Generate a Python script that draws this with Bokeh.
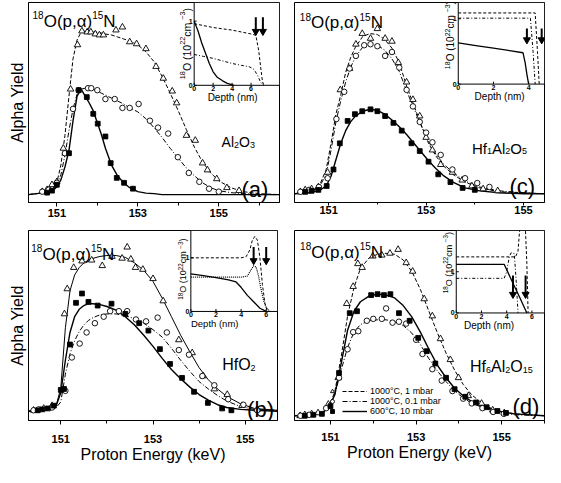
import numpy as np
from bokeh.plotting import figure
from bokeh.layouts import row, column
from bokeh.models import Range1d, FixedTicker, Legend, LegendItem
from bokeh.core.properties import value
from bokeh.embed import file_html
from bokeh.resources import INLINE

FONT = "Liberation Sans"

# ---------------- shared tick labels ----------------
x_major_ticks = [151, 153, 155]
x_minor_ticks = [150, 152, 154, 156]
x_label = "Proton Energy (keV)"
y_label = "Alpha Yield"
legend_labels = ["1000°C, 1 mbar", "1000°C, 0.1 mbar", "600°C, 10 mbar"]

# ---------------- panel (a) Al2O3 ----------------
a_fit_E = [150.3, 150.7, 150.9, 151.0, 151.1, 151.2, 151.3, 151.4, 151.5, 151.6, 151.7, 151.8, 151.9, 152.0,
           152.1, 152.2, 152.35, 152.5, 152.65, 152.8, 153.0, 153.2, 153.4, 153.6, 153.8, 154.0, 154.2, 154.4,
           154.6, 154.8, 155.0, 155.3, 155.6, 156.0, 156.5]
a_fit_1mbar = [0, 0.02, 0.06, 0.12, 0.30, 0.60, 1.0, 1.38, 1.57, 1.65, 1.66, 1.66, 1.65, 1.65, 1.64, 1.63, 1.62,
               1.60, 1.58, 1.56, 1.52, 1.45, 1.35, 1.20, 1.03, 0.85, 0.66, 0.48, 0.33, 0.22, 0.14, 0.07, 0.03,
               0.01, 0]
a_fit_01mbar = [0, 0.02, 0.05, 0.10, 0.20, 0.40, 0.65, 0.87, 1.02, 1.07, 1.08, 1.08, 1.07, 1.05, 1.03, 1.01, 0.98,
                0.95, 0.92, 0.88, 0.84, 0.77, 0.68, 0.58, 0.47, 0.37, 0.27, 0.19, 0.12, 0.07, 0.04, 0.02, 0.01,
                0, 0]
a_fit_600 = [0, 0.02, 0.04, 0.08, 0.15, 0.28, 0.45, 0.75, 1.0, 1.07, 1.0, 0.93, 0.85, 0.73, 0.61, 0.47, 0.30,
             0.19, 0.12, 0.07, 0.03, 0.015, 0.01, 0, 0, 0, 0, 0, 0, 0, 0, 0, 0, 0, 0]
a_tri_E = [150.64, 150.76, 150.88, 151.0, 151.16, 151.34, 151.51, 151.62, 151.75, 151.84, 151.95, 152.05, 152.15,
           152.46, 152.62, 152.80, 152.97, 153.2, 153.45, 153.63, 153.85, 153.96, 154.2, 154.42, 154.6, 154.72,
           154.95, 155.2, 155.5]
a_tri_Y = [0.03, 0.05, 0.10, 0.13, 0.47, 1.07, 1.52, 1.66, 1.65, 1.65, 1.63, 1.62, 1.62, 1.67, 1.70, 1.55, 1.53,
           1.48, 1.30, 1.18, 1.05, 0.93, 0.60, 0.55, 0.32, 0.25, 0.16, 0.07, 0.04]
a_cir_E = [150.64, 150.8, 151.0, 151.2, 151.4, 151.54, 151.77, 151.85, 152.0, 152.2, 152.43, 152.62, 152.80,
           153.02, 153.3, 153.5, 153.75, 153.99, 154.26, 154.52, 154.76, 155.0]
a_cir_Y = [0.03, 0.05, 0.12, 0.42, 0.87, 1.06, 1.08, 1.08, 1.06, 0.97, 0.97, 0.88, 0.88, 0.92, 0.75, 0.68, 0.62,
           0.38, 0.22, 0.13, 0.06, 0.03]
a_sq_E = [150.76, 150.88, 151.0, 151.3, 151.54, 151.74, 151.9, 152.01, 152.2, 152.33, 152.48, 152.66, 152.88]
a_sq_Y = [0.02, 0.04, 0.10, 0.42, 1.06, 0.99, 0.82, 0.72, 0.59, 0.32, 0.17, 0.12, 0.06]
# inset (a): depth (nm) vs 18O concentration (1e22 cm^-3)
a_in_d_1mbar = [0, 1, 2, 3, 4, 5, 6, 6.5, 6.8, 7.0, 7.2, 7.35]
a_in_c_1mbar = [0.96, 0.93, 0.90, 0.88, 0.86, 0.83, 0.80, 0.78, 0.55, 0.30, 0.06, 0]
a_in_d_01mbar = [0, 1, 2, 3, 4, 5, 5.8, 6.3, 6.7, 7.0, 7.3]
a_in_c_01mbar = [0.48, 0.45, 0.42, 0.38, 0.34, 0.31, 0.29, 0.25, 0.15, 0.05, 0]
a_in_d_600 = [0, 0.4, 0.8, 1.2, 1.6, 2.0, 2.4, 3.0, 3.5, 4.2]
a_in_c_600 = [1.0, 0.85, 0.66, 0.50, 0.34, 0.21, 0.13, 0.07, 0.03, 0]
a_in_xticks = [0, 2, 4, 6]
a_in_arrows = [6.5, 7.25]

# ---------------- panel (b) HfO2 ----------------
b_fit_E = [150.3, 150.7, 150.9, 151.0, 151.1, 151.2, 151.3, 151.4, 151.5, 151.6, 151.7, 151.85, 152.0, 152.2,
           152.4, 152.6, 152.8, 153.0, 153.2, 153.4, 153.6, 153.8, 154.0, 154.2, 154.4, 154.6, 154.9, 155.2, 155.7]
b_fit_1mbar = [0, 0.02, 0.06, 0.25, 0.90, 1.30, 1.47, 1.55, 1.60, 1.63, 1.65, 1.67, 1.68, 1.68, 1.66, 1.60, 1.52,
               1.40, 1.22, 1.02, 0.82, 0.64, 0.47, 0.34, 0.24, 0.16, 0.08, 0.03, 0.01]
b_fit_01mbar = [0, 0.02, 0.04, 0.10, 0.40, 0.62, 0.76, 0.86, 0.93, 0.98, 1.01, 1.04, 1.05, 1.05, 1.03, 1.00, 0.95,
                0.88, 0.80, 0.68, 0.55, 0.43, 0.32, 0.24, 0.17, 0.11, 0.05, 0.02, 0.01]
b_fit_600 = [0, 0.02, 0.06, 0.20, 0.55, 0.85, 1.02, 1.10, 1.14, 1.16, 1.16, 1.15, 1.13, 1.09, 1.02, 0.93, 0.82,
             0.70, 0.57, 0.45, 0.35, 0.26, 0.18, 0.12, 0.07, 0.04, 0.02, 0.01, 0]
b_tri_E = [150.41, 150.63, 150.81, 151.08, 151.14, 151.28, 151.46, 151.67, 151.9, 152.11, 152.33, 152.44, 152.52,
           152.62, 152.78, 153.0, 153.22, 153.56, 153.85, 154.09, 154.33, 154.61, 154.93, 155.26]
b_tri_Y = [0.01, 0.03, 0.06, 1.05, 1.32, 1.55, 1.62, 1.63, 1.57, 1.67, 1.65, 1.77, 1.64, 1.55, 1.53, 1.43, 1.19,
           0.77, 0.63, 0.38, 0.24, 0.18, 0.06, 0.02]
b_cir_E = [150.41, 150.52, 150.81, 151.1, 151.24, 151.41, 151.56, 151.74, 151.93, 152.07, 152.26, 152.44, 152.63,
           152.85, 153.1, 153.3, 153.56, 153.78, 154.07, 154.33, 154.63, 154.96, 155.26]
b_cir_Y = [0.01, 0.02, 0.04, 0.22, 0.58, 0.73, 0.85, 0.95, 1.02, 1.08, 1.08, 1.08, 0.99, 0.97, 1.01, 0.85, 0.66,
           0.61, 0.38, 0.28, 0.13, 0.07, 0.01]
b_sq_E = [150.5, 150.6, 150.72, 150.85, 151.0, 151.07, 151.2, 151.33, 151.46, 151.6, 151.8, 152.1, 152.4, 152.7,
          152.9, 153.15, 153.37, 153.63, 153.89, 154.19, 154.5, 154.7]
b_sq_Y = [0.01, 0.02, 0.03, 0.06, 0.23, 0.24, 0.72, 1.17, 1.27, 1.18, 1.14, 1.16, 1.05, 0.95, 0.87, 0.67, 0.51,
          0.36, 0.21, 0.09, 0.03, 0.01]
b_in_d_1mbar = [0, 1, 2, 3, 4, 4.4, 4.7, 4.9, 5.1, 5.3, 5.5, 5.7, 5.9, 6.1]
b_in_c_1mbar = [1, 1, 1, 1, 1, 1.02, 1.15, 1.33, 1.40, 1.33, 1.0, 0.5, 0.15, 0]
b_in_d_01mbar = [0, 1, 2, 3, 4, 4.5, 4.8, 5.0, 5.2, 5.4, 5.6, 5.8, 6.0, 6.3]
b_in_c_01mbar = [0.64, 0.64, 0.64, 0.64, 0.64, 0.66, 0.78, 0.85, 0.83, 0.65, 0.40, 0.2, 0.07, 0]
b_in_d_600 = [0, 1, 2, 3, 3.6, 4.0, 4.5, 5.0, 5.5, 6.0]
b_in_c_600 = [0.70, 0.67, 0.63, 0.59, 0.55, 0.45, 0.30, 0.18, 0.06, 0]
b_in_xticks = [0, 2, 4, 6]
b_in_arrows = [5.0, 6.0]

# ---------------- panel (c) Hf1Al2O5 ----------------
c_fit_E = [150.3, 150.6, 150.8, 150.95, 151.05, 151.15, 151.25, 151.35, 151.45, 151.55, 151.7, 151.85, 152.0,
           152.15, 152.3, 152.45, 152.6, 152.75, 152.9, 153.05, 153.2, 153.35, 153.55, 153.8, 154.1, 154.5,
           155.0, 155.45]
c_fit_1mbar = [0, 0.02, 0.07, 0.25, 0.52, 0.82, 1.02, 1.25, 1.40, 1.51, 1.62, 1.65, 1.64, 1.59, 1.50, 1.35, 1.11,
               0.91, 0.71, 0.52, 0.39, 0.29, 0.20, 0.12, 0.06, 0.02, 0.01, 0]
c_fit_01mbar = [0, 0.02, 0.06, 0.20, 0.45, 0.74, 0.96, 1.15, 1.30, 1.41, 1.51, 1.54, 1.53, 1.48, 1.39, 1.26, 1.06,
                0.88, 0.70, 0.54, 0.41, 0.31, 0.22, 0.13, 0.07, 0.03, 0.01, 0]
c_fit_600 = [0, 0.01, 0.03, 0.08, 0.18, 0.35, 0.52, 0.65, 0.74, 0.80, 0.85, 0.87, 0.86, 0.82, 0.76, 0.69, 0.61,
             0.52, 0.43, 0.34, 0.26, 0.19, 0.12, 0.06, 0.03, 0.01, 0, 0]
c_tri_E = [150.42, 150.52, 150.65, 150.79, 150.98, 151.24, 151.43, 151.56, 151.69, 151.86, 152.0, 152.16, 152.3,
           152.43, 152.6, 152.73, 152.87, 153.0, 153.13, 153.3, 153.54, 153.74, 153.94, 154.17, 154.47]
c_tri_Y = [0.02, 0.04, 0.05, 0.07, 0.22, 1.07, 1.29, 1.54, 1.65, 1.60, 1.70, 1.60, 1.57, 1.35, 1.15, 0.97, 0.80,
           0.58, 0.45, 0.30, 0.22, 0.14, 0.08, 0.05, 0.03]
c_cir_E = [150.42, 150.6, 150.8, 150.98, 151.16, 151.32, 151.43, 151.56, 151.73, 151.86, 152.0, 152.16, 152.3,
           152.45, 152.6, 152.73, 152.87, 153.0, 153.13, 153.3, 153.54, 153.8, 154.05, 154.3]
c_cir_Y = [0.02, 0.04, 0.07, 0.16, 0.77, 1.05, 1.29, 1.42, 1.53, 1.54, 1.52, 1.42, 1.46, 1.30, 1.07, 0.90, 0.74,
           0.63, 0.53, 0.40, 0.25, 0.16, 0.11, 0.07]
c_sq_E = [150.52, 150.65, 150.79, 150.96, 151.1, 151.23, 151.39, 151.54, 151.69, 151.86, 152.0, 152.16, 152.33,
          152.5, 152.7, 152.87, 153.05, 153.25, 153.5, 153.75, 154.0]
c_sq_Y = [0.02, 0.03, 0.04, 0.08, 0.25, 0.52, 0.75, 0.82, 0.85, 0.87, 0.85, 0.80, 0.73, 0.65, 0.52, 0.44, 0.33,
          0.20, 0.12, 0.06, 0.04]
c_in_d_1mbar = [0, 1, 2, 3, 4, 4.37, 4.5, 4.6]
c_in_c_1mbar = [1.09, 1.09, 1.09, 1.09, 1.09, 1.09, 0.5, 0]
c_in_d_01mbar = [0, 1, 2, 3, 4, 4.1, 4.25, 4.37]
c_in_c_01mbar = [1.01, 1.01, 1.01, 1.01, 1.01, 1.01, 0.5, 0]
c_in_d_600 = [0, 1, 2, 3, 3.68, 3.8, 3.9, 4.0]
c_in_c_600 = [0.63, 0.59, 0.55, 0.51, 0.48, 0.33, 0.15, 0]
c_in_xticks = [0, 2, 4]
c_in_arrows = [3.9, 4.74]

# ---------------- panel (d) Hf6Al2O15 ----------------
d_fit_E = [150.15, 150.6, 150.8, 150.95, 151.1, 151.25, 151.4, 151.55, 151.7, 151.9, 152.1, 152.3, 152.5, 152.7,
           152.9, 153.1, 153.3, 153.5, 153.7, 153.9, 154.1, 154.3, 154.6, 154.9, 155.3, 156.0]
d_fit_1mbar = [0, 0.01, 0.03, 0.08, 0.25, 0.62, 1.05, 1.35, 1.55, 1.66, 1.70, 1.71, 1.70, 1.64, 1.52, 1.33, 1.10,
               0.87, 0.66, 0.48, 0.33, 0.22, 0.11, 0.05, 0.02, 0]
d_fit_01mbar = [0, 0.01, 0.03, 0.08, 0.22, 0.48, 0.72, 0.88, 0.96, 1.0, 1.01, 1.01, 0.99, 0.95, 0.87, 0.75, 0.60,
                0.47, 0.36, 0.26, 0.19, 0.13, 0.08, 0.04, 0.01, 0]
d_fit_600 = [0, 0.01, 0.03, 0.08, 0.22, 0.55, 0.90, 1.10, 1.20, 1.26, 1.28, 1.27, 1.24, 1.16, 1.04, 0.88, 0.70,
             0.53, 0.40, 0.29, 0.21, 0.15, 0.09, 0.05, 0.02, 0]
d_tri_E = [150.29, 150.4, 150.56, 150.71, 150.95, 151.18, 151.38, 151.53, 151.64, 151.74, 151.99, 152.2, 152.39,
           152.58, 152.77, 152.92, 153.19, 153.38, 153.57, 153.8, 153.99, 154.22, 154.53, 154.79, 155.06]
d_tri_Y = [0.0, 0.01, 0.02, 0.03, 0.12, 0.40, 1.18, 1.36, 1.60, 1.56, 1.68, 1.69, 1.71, 1.75, 1.61, 1.52, 1.23,
           1.05, 0.81, 0.59, 0.40, 0.21, 0.13, 0.06, 0.03]
d_cir_E = [150.3, 150.5, 150.9, 151.2, 151.4, 151.53, 151.65, 151.85, 152.0, 152.2, 152.3, 152.45, 152.6, 152.77,
           153.0, 153.15, 153.38, 153.6, 153.85, 154.1, 154.3, 154.55, 154.8, 155.05]
d_cir_Y = [0.0, 0.01, 0.08, 0.40, 0.70, 0.88, 0.89, 1.0, 1.02, 1.02, 1.13, 0.98, 0.99, 0.97, 0.80, 0.65, 0.49,
           0.37, 0.26, 0.18, 0.13, 0.08, 0.04, 0.02]
d_sq_E = [150.4, 150.6, 150.8, 151.0, 151.2, 151.45, 151.62, 151.95, 152.1, 152.25, 152.4, 152.6, 152.85, 153.05,
          153.25, 153.45, 153.7, 153.9, 154.15, 154.4, 154.65, 154.9, 155.1]
d_sq_Y = [0.0, 0.01, 0.02, 0.10, 0.45, 1.08, 1.10, 1.27, 1.28, 1.27, 1.28, 1.08, 1.0, 0.82, 0.68, 0.55, 0.40,
          0.28, 0.20, 0.14, 0.09, 0.05, 0.03]
d_in_d_1mbar = [0, 1, 2, 3, 4, 4.7, 4.9, 5.05, 5.2, 5.45, 5.6, 5.7]
d_in_c_1mbar = [1.36, 1.36, 1.36, 1.36, 1.36, 1.36, 1.5, 2.1, 2.3, 2.3, 1.2, 0]
d_in_d_01mbar = [0, 1, 2, 3, 3.8, 4.0, 4.2, 4.35, 4.6, 4.75, 4.9]
d_in_c_01mbar = [0.84, 0.84, 0.84, 0.84, 0.84, 1.0, 1.35, 1.46, 1.44, 0.8, 0]
d_in_d_600 = [0, 1, 2, 3, 3.8, 4.5, 5.0, 5.6]
d_in_c_600 = [1.18, 1.18, 1.18, 1.18, 1.18, 0.72, 0.40, 0]
d_in_xticks = [0, 2, 4, 6]
d_in_arrows = [4.5, 5.5]

in_yticks = [0, 1]

# ---------------- helpers ----------------
ARIAL = {c: 556 for c in "0123456789"}
ARIAL.update({" ": 278, "(": 333, ")": 333, ",": 278, ".": 278, "A": 667, "C": 722, "D": 722, "H": 722,
              "N": 722, "O": 778, "a": 556, "c": 500, "e": 556, "f": 278, "h": 556, "l": 222, "m": 833,
              "n": 556, "p": 556, "t": 278, "α": 578, "−": 584})


def tw(s, size):
    return sum(ARIAL.get(ch, 556) for ch in s) * size / 1000.0


def rich(p, x, y, pieces, base, angle=0.0, center=False, dx=0.0, dy=0.0, **kw):
    widths = [tw(t, s) for t, s, _ in pieces]
    cum = -sum(widths) / 2 if center else 0.0
    for (t, s, kind), w in zip(pieces, widths):
        shift = {"n": 0.0, "sup": -0.36 * base, "sub": 0.22 * base}[kind]
        if angle == 0:
            xo, yo = dx + cum, dy + shift
        else:
            xo, yo = dx + shift, dy - cum
        p.text(x=[x], y=[y], text=[t], x_offset=xo, y_offset=yo, angle=angle, text_align="left",
               text_baseline="alphabetic", text_font=value(FONT), text_font_size=f"{s}px",
               text_color="black", **kw)
        cum += w


def make_fig(W, H, bl, br, bt, bb, xr, yr, ylab, xlab, tick_out, standoff):
    p = figure(width=W, height=H, x_range=Range1d(xr[0], xr[1]), y_range=Range1d(yr[0], yr[1]),
               output_backend="svg", toolbar_location=None,
               min_border_left=bl, min_border_right=br, min_border_top=bt, min_border_bottom=bb)
    p.background_fill_color = "white"
    p.border_fill_color = "white"
    p.outline_line_color = "black"
    p.outline_line_width = 1
    p.outline_line_alpha = 1
    p.xgrid.visible = False
    p.ygrid.visible = False
    xa = p.xaxis[0]
    xa.ticker = FixedTicker(ticks=x_major_ticks, minor_ticks=x_minor_ticks)
    xa.major_tick_out = tick_out
    xa.major_tick_in = 0
    xa.minor_tick_out = tick_out - 1
    xa.minor_tick_in = 0
    xa.axis_line_color = "black"
    xa.major_tick_line_color = "black"
    xa.minor_tick_line_color = "black"
    xa.major_label_standoff = standoff
    xa.major_label_text_font = FONT
    xa.major_label_text_font_size = "11px"
    xa.major_label_text_font_style = "bold"
    xa.major_label_text_color = "black"
    if xlab:
        xa.axis_label = xlab
        xa.axis_label_standoff = 0
        xa.axis_label_text_font = FONT
        xa.axis_label_text_font_size = "16px"
        xa.axis_label_text_font_style = "normal"
        xa.axis_label_text_color = "black"
    ya = p.yaxis[0]
    if ylab:
        ya.ticker = FixedTicker(ticks=[])
        ya.major_tick_out = 0
        ya.major_tick_in = 0
        ya.minor_tick_out = 0
        ya.minor_tick_in = 0
        ya.major_label_standoff = 0
        ya.axis_label = ylab
        ya.axis_label_standoff = 3
        ya.axis_label_text_font = FONT
        ya.axis_label_text_font_size = "16px"
        ya.axis_label_text_font_style = "normal"
        ya.axis_label_text_color = "black"
    else:
        ya.visible = False
    return p


def draw_main(p, E_fit, fits, styles, pts):
    lines = []
    for Y, (dash, w) in zip(fits, styles):
        lines.append(p.line(E_fit, Y, line_color="black", line_dash=dash, line_width=w))
    marks = []
    for (E, Y), (mk, sz, fill) in zip(pts, [("triangle", 6.5, "white"), ("circle", 5.5, "white"),
                                             ("square", 4.8, "black")]):
        marks.append(p.scatter(E, Y, marker=mk, size=sz, line_color="black", fill_color=fill, line_width=0.9))
    return lines, marks


def draw_inset(p, fw, fh, fx0, fy0, dmax, cmax, curves, styles, xticks, arrows, arr_c, depth_x, ylab_c,
               ylab_size, depth_size=10):
    xs = -fx0 * dmax / (1 - fx0)
    ys = -fy0 * cmax / (1 - fy0)
    p.extra_x_ranges = {"ix": Range1d(xs, dmax)}
    p.extra_y_ranges = {"iy": Range1d(ys, cmax)}
    ux = (dmax - xs) / fw
    uy = (cmax - ys) / fh
    kw = dict(x_range_name="ix", y_range_name="iy")
    p.quad(left=[0], right=[dmax], bottom=[0], top=[cmax], fill_color="white", line_color="black",
           line_width=1, **kw)
    for (d, c), (dash, w) in zip(curves, styles):
        p.line(d, c, line_color="black", line_dash=dash, line_width=w, **kw)
    # ticks
    p.segment(x0=xticks, y0=[0] * len(xticks), x1=xticks, y1=[2.5 * uy] * len(xticks),
              line_color="black", line_width=1, **kw)
    p.segment(x0=[0] * len(in_yticks), y0=in_yticks, x1=[2.5 * ux] * len(in_yticks), y1=in_yticks,
              line_color="black", line_width=1, **kw)
    p.text(x=xticks, y=[-1.0 * uy] * len(xticks), text=[str(t) for t in xticks], text_align="center",
           text_baseline="top", text_font=value(FONT), text_font_size="7px", text_font_style="bold",
           text_color="black", **kw)
    p.text(x=[-1.5 * ux] * len(in_yticks), y=in_yticks, text=[str(t) for t in in_yticks], text_align="right",
           text_baseline="middle", text_font=value(FONT), text_font_size="7px", text_font_style="bold",
           text_color="black", **kw)
    p.text(x=[depth_x], y=[-7.0 * uy], text=["Depth (nm)"], text_align="center", text_baseline="top",
           text_font=value(FONT), text_font_size=f"{depth_size}px", text_color="black", **kw)
    s = ylab_size
    ss = round(s * 0.7, 1)
    rich(p, 0, ylab_c, [("18", ss, "sup"), ("O (10", s, "n"), ("22", ss, "sup"), (" cm", s, "n"),
                        ("−3", ss, "sup"), (")", s, "n")], s, angle=np.pi / 2, center=True, dx=-7.5, **kw)
    # depth arrows
    a0, a1 = arr_c
    p.segment(x0=arrows, y0=[a0] * len(arrows), x1=arrows, y1=[a1 + 4 * uy] * len(arrows),
              line_color="black", line_width=2, **kw)
    p.scatter(arrows, [a1 + 2.5 * uy] * len(arrows), marker="inverted_triangle", size=7, line_color="black",
              fill_color="black", **kw)


fit_styles_std = [("4 2", 1), ("5 2 1 2", 1), ("solid", 1.4)]
in_styles = [("3 2", 1), ("3 2 1 2", 1), ("solid", 1.3)]

# ---------------- panel (a) ----------------
pa = make_fig(280, 222, 28, 1, 2, 20, (150.3, 156.5), (-0.08, 1.95), y_label, None, 4, 2)
draw_main(pa, a_fit_E, [a_fit_1mbar, a_fit_01mbar, a_fit_600], fit_styles_std,
          [(a_tri_E, a_tri_Y), (a_cir_E, a_cir_Y), (a_sq_E, a_sq_Y)])
draw_inset(pa, 251, 200, 0.66, 0.586, 9.0, 1.29,
           [(a_in_d_1mbar, a_in_c_1mbar), (a_in_d_01mbar, a_in_c_01mbar), (a_in_d_600, a_in_c_600)],
           in_styles, a_in_xticks, a_in_arrows, (1.06, 0.80), 4.06, 0.65, 10.5)
rich(pa, 150.40, 1.76, [("18", 10, "sup"), ("O(p,α)", 17, "n"), ("15", 10, "sup"), ("N", 17, "n")], 17)
rich(pa, 155.07, 0.53, [("Al", 14, "n"), ("2", 9, "sub"), ("O", 14, "n"), ("3", 9, "sub")], 14)
rich(pa, 155.56, 0.05, [("(a)", 22, "n")], 22)

# ---------------- panel (c) ----------------
pc = make_fig(265, 222, 14, 1, 2, 17, (150.3, 155.43), (-0.09, 1.97), None, None, 3, 0)
draw_main(pc, c_fit_E, [c_fit_1mbar, c_fit_01mbar, c_fit_600], fit_styles_std,
          [(c_tri_E, c_tri_Y), (c_cir_E, c_cir_Y), (c_sq_E, c_sq_Y)])
draw_inset(pc, 250, 203, 0.655, 0.592, 4.9, 1.25,
           [(c_in_d_1mbar, c_in_c_1mbar), (c_in_d_01mbar, c_in_c_01mbar), (c_in_d_600, c_in_c_600)],
           in_styles, c_in_xticks, c_in_arrows, (0.85, 0.64), 2.35, 0.75, 10)
rich(pc, 150.41, 1.76, [("18", 10, "sup"), ("O(p,α)", 17, "n"), ("15", 10, "sup"), ("N", 17, "n")], 17)
rich(pc, 153.94, 0.47, [("Hf", 15, "n"), ("1", 9, "sub"), ("Al", 15, "n"), ("2", 9, "sub"), ("O", 15, "n"),
                        ("5", 9, "sub")], 15)
rich(pc, 154.71, 0.07, [("(c)", 22, "n")], 22)

# ---------------- panel (b) ----------------
pb = make_fig(280, 245, 28, 3, 6, 47, (150.3, 155.7), (-0.10, 1.95), y_label, x_label, 4, 10)
draw_main(pb, b_fit_E, [b_fit_1mbar, b_fit_01mbar, b_fit_600], [("solid", 1), ("5 2 1 2", 1), ("solid", 1.4)],
          [(b_tri_E, b_tri_Y), (b_cir_E, b_cir_Y), (b_sq_E, b_sq_Y)])
draw_inset(pb, 249, 192, 0.652, 0.574, 6.9, 1.51,
           [(b_in_d_1mbar, b_in_c_1mbar), (b_in_d_01mbar, b_in_c_01mbar), (b_in_d_600, b_in_c_600)],
           [("3 2", 1), ("1 1", 1.2), ("solid", 1.3)], b_in_xticks, b_in_arrows, (1.2, 0.9), 1.9, 0.79, 9,
           depth_size=9.5)
rich(pb, 150.36, 1.69, [("18", 10, "sup"), ("O(p,α)", 17, "n"), ("15", 10, "sup"), ("N", 17, "n")], 17)
rich(pb, 154.5, 0.50, [("HfO", 16, "n"), ("2", 9, "sub")], 16)
rich(pb, 155.04, 0.02, [("(b)", 22, "n")], 22)

# ---------------- panel (d) ----------------
pd_ = make_fig(265, 245, 14, 1, 8, 45, (150.16, 156.0), (-0.05, 1.95), None, x_label, 4, 8)
lines_d, marks_d = draw_main(pd_, d_fit_E, [d_fit_1mbar, d_fit_01mbar, d_fit_600], fit_styles_std,
                             [(d_tri_E, d_tri_Y), (d_cir_E, d_cir_Y), (d_sq_E, d_sq_Y)])
draw_inset(pd_, 250, 192, 0.647, 0.566, 7.0, 2.0,
           [(d_in_d_1mbar, d_in_c_1mbar), (d_in_d_01mbar, d_in_c_01mbar), (d_in_d_600, d_in_c_600)],
           in_styles, d_in_xticks, d_in_arrows, (0.91, 0.39), 2.6, 1.22, 9)
rich(pd_, 150.29, 1.72, [("18", 10, "sup"), ("O(p,α)", 17, "n"), ("15", 10, "sup"), ("N", 17, "n")], 17)
rich(pd_, 154.26, 0.52, [("Hf", 16, "n"), ("6", 9, "sub"), ("Al", 16, "n"), ("2", 9, "sub"), ("O", 16, "n"),
                         ("15", 9, "sub")], 16)
rich(pd_, 155.25, 0.10, [("(d)", 22, "n")], 22)

leg_common = dict(spacing=0, padding=0, margin=0, border_line_color=None, background_fill_alpha=0,
                  glyph_height=10, label_height=10, label_text_font=FONT, label_text_font_size="9px",
                  label_text_color="black")
leg_m = Legend(items=[LegendItem(label=value(" "), renderers=[r]) for r in marks_d], location=(33, 4),
               glyph_width=10, label_standoff=0, label_width=0, **leg_common)
leg_l = Legend(items=[LegendItem(label=value(t), renderers=[r]) for t, r in zip(legend_labels, lines_d)],
               location=(48, 4), glyph_width=25, label_standoff=3, **leg_common)
pd_.add_layout(leg_m)
pd_.add_layout(leg_l)

layout = column(row(pa, pc), row(pb, pd_))
open("out.html", "w").write(file_html(layout, INLINE))
